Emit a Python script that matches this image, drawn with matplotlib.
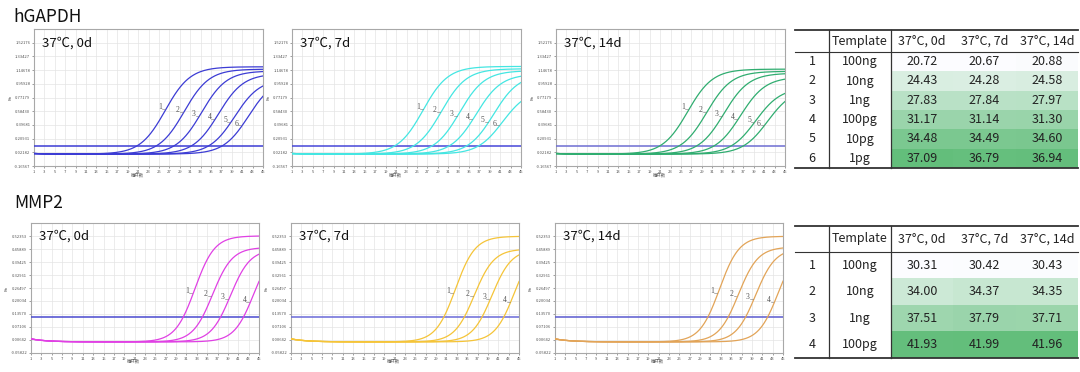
import numpy as np
import matplotlib
matplotlib.use('Agg')
import matplotlib.pyplot as plt
from matplotlib.colors import LinearSegmentedColormap, Normalize
from matplotlib.patches import Rectangle

plt.rcParams['font.family'] = ['Noto Sans CJK SC', 'DejaVu Sans']

# ---------------- data ----------------
table_conditions = ['37°C, 0d', '37°C, 7d', '37°C, 14d']
panel_titles = ['37℃, 0d', '37℃, 7d', '37℃, 14d']
cycle_ticks = list(range(1, 46, 2))

gapdh_templates = ['100ng', '10ng', '1ng', '100pg', '10pg', '1pg']
gapdh_ct_0d = [20.72, 24.43, 27.83, 31.17, 34.48, 37.09]
gapdh_ct_7d = [20.67, 24.28, 27.84, 31.14, 34.49, 36.79]
gapdh_ct_14d = [20.88, 24.58, 27.97, 31.30, 34.60, 36.94]
gapdh_plateau_0d = [1.195, 1.163, 1.138, 1.10, 1.03, 1.04]
gapdh_plateau_7d = [1.20, 1.168, 1.142, 1.095, 1.09, 0.885]
gapdh_plateau_14d = [1.163, 1.133, 1.108, 1.055, 0.91, 0.90]
gapdh_threshold = 0.11
gapdh_yticks = [-0.16567, 0.02182, 0.20931, 0.39681, 0.58430,
                0.77179, 0.95928, 1.14678, 1.33427, 1.52176]

mmp2_templates = ['100ng', '10ng', '1ng', '100pg']
mmp2_ct_0d = [30.31, 34.00, 37.51, 41.93]
mmp2_ct_7d = [30.42, 34.37, 37.79, 41.99]
mmp2_ct_14d = [30.43, 34.35, 37.71, 41.96]
mmp2_plateau_0d = [0.527, 0.47, 0.46, 0.48]
mmp2_plateau_7d = [0.525, 0.462, 0.46, 0.49]
mmp2_plateau_14d = [0.525, 0.472, 0.465, 0.49]
mmp2_threshold = 0.12
mmp2_yticks = [-0.05822, 0.00642, 0.07106, 0.13570, 0.20034,
               0.26497, 0.32961, 0.39425, 0.45889, 0.52353]

# ---------------- figure ----------------
W, H = 1080, 372
fig = plt.figure(figsize=(W / 100, H / 100), dpi=100)
fig.patch.set_facecolor('white')


def px_axes(left, top, width, height):
    return fig.add_axes([left / W, 1 - (top + height) / H, width / W, height / H])


def amp_curve(x, ct, plateau, thr, slope, base0, drift):
    base = base0 + drift * np.exp(-(x - 1) / 3.0)
    mid = ct + slope * np.log((plateau - thr) / thr)
    return base + plateau / (1 + np.exp(-(x - mid) / slope)), mid


def draw_panel(ax, cts, plateaus, thr, yticks, color, thr_color, title,
               slope, base0, drift, lab0, dlab):
    step = yticks[1] - yticks[0]
    ax.set_xlim(1, 45)
    ax.set_ylim(yticks[0], yticks[-1] + step)
    ax.set_xticks(cycle_ticks)
    ax.set_xticklabels([str(c) for c in cycle_ticks])
    ax.set_yticks(yticks)
    ax.set_yticklabels([f'{v:.5f}' for v in yticks])
    ax.tick_params(labelsize=3, length=1.2, width=0.4, colors='#555555', pad=1.5)
    ax.grid(True, color='#e4e4e4', lw=0.5)
    ax.set_axisbelow(True)
    for sp in ax.spines.values():
        sp.set_color('#a8a8a8')
        sp.set_linewidth(0.8)
    ax.set_ylabel('Rn', fontsize=3, labelpad=1, color='#555555')
    ax.set_xlabel('循环数', fontsize=3.2, labelpad=0.5, color='#555555')
    ax.xaxis.set_label_coords(0.45, -0.045)
    x = np.linspace(1, 45, 500)
    ax.axhline(thr, color=thr_color, lw=1.1, zorder=3)
    for i, (ct, p) in enumerate(zip(cts, plateaus)):
        y, mid = amp_curve(x, ct, p, thr, slope, base0, drift)
        ax.plot(x, y, color=color, lw=0.9, zorder=4)
        ylab = lab0 - dlab * i
        f = (ylab - base0) / p
        xc = mid + slope * np.log(f / (1 - f))
        ax.text(xc - 0.9, ylab + step * 0.05, str(i + 1), fontsize=5.5,
                family='Liberation Serif', color='#555555', ha='right', va='center', zorder=5)
        ax.plot([xc - 0.9, xc - 0.35], [ylab - step * 0.08, ylab - step * 0.08],
                color='#777777', lw=0.4, zorder=5)
    ax.text(0.035, 0.9, title, transform=ax.transAxes, fontsize=9.5,
            color='#111111', ha='left', va='center', zorder=6)


# top row (hGAPDH)
top_lefts = [34, 292, 556]
gapdh_cts = [gapdh_ct_0d, gapdh_ct_7d, gapdh_ct_14d]
gapdh_plats = [gapdh_plateau_0d, gapdh_plateau_7d, gapdh_plateau_14d]
gapdh_colors = ['#3c3cd4', '#44e6e2', '#30ad70']
gapdh_thr_colors = ['#3c3cd4', '#4646d8', '#6e6ed2']
for k in range(3):
    ax = px_axes(top_lefts[k], 29, 229, 137)
    draw_panel(ax, gapdh_cts[k], gapdh_plats[k], gapdh_threshold, gapdh_yticks,
               gapdh_colors[k], gapdh_thr_colors[k], panel_titles[k],
               2.4, -0.003, 0.008, 0.63, 0.045)

# bottom row (MMP2)
bot_lefts = [31, 291, 555]
mmp2_cts = [mmp2_ct_0d, mmp2_ct_7d, mmp2_ct_14d]
mmp2_plats = [mmp2_plateau_0d, mmp2_plateau_7d, mmp2_plateau_14d]
mmp2_colors = ['#e040e4', '#f5c438', '#e2a458']
mmp2_thr_colors = ['#4a4ad0', '#6a6ad8', '#5a5ad0']
for k in range(3):
    ax = px_axes(bot_lefts[k], 223, 228, 130)
    draw_panel(ax, mmp2_cts[k], mmp2_plats[k], mmp2_threshold, mmp2_yticks,
               mmp2_colors[k], mmp2_thr_colors[k], panel_titles[k],
               1.9, -0.003, 0.015, 0.245, 0.014)

fig.text(13 / W, 1 - 22 / H, 'hGAPDH', fontsize=12.5, color='#111111', ha='left', va='baseline')
fig.text(14 / W, 1 - 208 / H, 'MMP2', fontsize=12.5, color='#111111', ha='left', va='baseline')

# ---------------- tables ----------------
green_scale = LinearSegmentedColormap.from_list('g', ['#fcfcff', '#63be7b'])
col_edges = [795, 829, 891, 953, 1016, 1078]


def draw_table(top, header_bottom, bottom, templates, ct_cols):
    ax = px_axes(col_edges[0], top, col_edges[-1] - col_edges[0], bottom - top)
    ax.set_xlim(col_edges[0], col_edges[-1])
    ax.set_ylim(bottom, top)
    ax.axis('off')
    n = len(templates)
    rh = (bottom - header_bottom) / n
    vals = np.array(ct_cols)
    norm = Normalize(vals.min(), vals.max())
    fs = 9
    hy = (top + header_bottom) / 2
    headers = [''] + ['Template'] + table_conditions
    for j, h in enumerate(headers):
        cx = (col_edges[j] + col_edges[j + 1]) / 2
        ax.text(cx, hy, h, fontsize=fs, ha='center', va='center', color='#222222')
    for i in range(n):
        y0 = header_bottom + i * rh
        cy = y0 + rh / 2
        ax.text((col_edges[0] + col_edges[1]) / 2, cy, str(i + 1), fontsize=fs,
                ha='center', va='center', color='#222222')
        ax.text((col_edges[1] + col_edges[2]) / 2, cy, templates[i], fontsize=fs,
                ha='center', va='center', color='#222222')
        for c in range(3):
            v = ct_cols[c][i]
            ax.add_patch(Rectangle((col_edges[2 + c], y0), col_edges[3 + c] - col_edges[2 + c], rh,
                                   facecolor=green_scale(norm(v)), edgecolor='none', zorder=1))
            ax.text((col_edges[2 + c] + col_edges[3 + c]) / 2, cy, f'{v:.2f}', fontsize=fs,
                    ha='center', va='center', color='#222222', zorder=3)
    kw = dict(color='#333333', clip_on=False, zorder=4)
    ax.plot([col_edges[0], col_edges[-1]], [top, top], lw=1.3, **kw)
    ax.plot([col_edges[0], col_edges[-1]], [header_bottom, header_bottom], lw=0.8, **kw)
    ax.plot([col_edges[0], col_edges[-1]], [bottom, bottom], lw=1.3, **kw)
    for xe in (col_edges[1], col_edges[2]):
        ax.plot([xe, xe], [top, bottom], lw=0.9, **kw)


draw_table(30, 52, 168, gapdh_templates, [gapdh_ct_0d, gapdh_ct_7d, gapdh_ct_14d])
draw_table(226, 252, 358, mmp2_templates, [mmp2_ct_0d, mmp2_ct_7d, mmp2_ct_14d])

fig.savefig('out.png', dpi=100, facecolor='white')
